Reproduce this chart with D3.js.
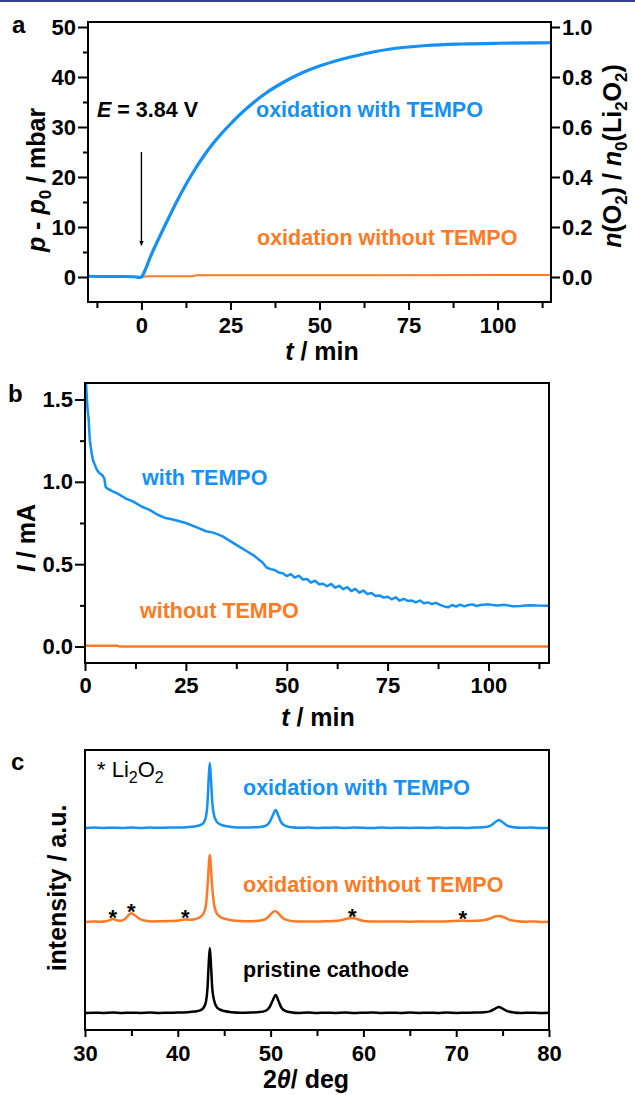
<!DOCTYPE html>
<html>
<head>
<meta charset="utf-8">
<style>
  body { margin: 0; background: #fff; }
  svg { display: block; font-family: Arial, "Liberation Sans", sans-serif; }
  .axis line { stroke: #000; stroke-width: 2; }
  .axis text { font-size: 22px; font-weight: bold; fill: #000; }
  .title { font-size: 25px; font-weight: bold; }
  .note { font-size: 21.5px; font-weight: bold; }
  .letter { font-size: 24px; font-weight: bold; }
  .frame { fill: none; stroke: #000; stroke-width: 2; }
</style>
</head>
<body>
<svg width="635" height="1095"></svg>
<script src="https://d3js.org/d3.v7.min.js"></script>
<script>
// ---- panel a: pressure rise ----
var pTime = [-15, -10, -5, -2, -0.5, 0, 1, 2.5, 5, 7.5, 10, 12.5, 15, 17.5, 20, 22.5, 25, 27.5, 30, 35, 40, 45, 50, 55, 60, 65, 70, 75, 80, 90, 100, 115];
var pWith = [0.15, 0.1, 0.1, 0.05, -0.1, 0, 1.3, 4.0, 7.9, 11.6, 15.2, 18.5, 21.5, 24.2, 26.6, 28.7, 30.6, 32.4, 34.0, 36.8, 39.0, 40.8, 42.2, 43.3, 44.2, 45.0, 45.6, 46.0, 46.3, 46.6, 46.75, 46.85];
var pTimeWithout = [0, 2, 14, 15.5, 60, 115];
var pWithout = [0, 0.15, 0.15, 0.35, 0.35, 0.4];

// ---- panel b: current ----
var iTime = [0, 0.3, 0.6, 0.9, 1.2, 1.6, 2, 2.5, 3, 3.7, 4.3, 4.8, 5.1, 5.5, 7, 8, 10, 12, 14, 16, 18, 20, 22, 25, 28, 30, 32, 34, 36, 38, 40, 42, 44, 45, 46, 47, 48, 49,
  50, 51, 52, 53, 54, 55, 56, 57, 58, 59, 60, 61, 62, 63, 64, 65, 66, 67, 68, 69, 70, 71, 72, 73, 74, 75, 76, 77, 78, 79,
  80, 81, 82, 83, 84, 85, 86, 87, 88, 89, 90, 91, 92, 93, 94, 95, 96, 97, 98, 100, 102, 104, 106, 108, 110, 112, 115];
var iWith = [1.75, 1.58, 1.45, 1.38, 1.25, 1.18, 1.13, 1.10, 1.07, 1.05, 1.04, 1.02, 0.97, 0.96, 0.94, 0.93, 0.90, 0.88, 0.85, 0.83, 0.80, 0.78, 0.77, 0.75, 0.72, 0.70, 0.69, 0.67, 0.64, 0.61, 0.58, 0.55, 0.51, 0.48, 0.47, 0.465, 0.45, 0.445,
  0.428, 0.44, 0.418, 0.43, 0.407, 0.41, 0.388, 0.40, 0.378, 0.381, 0.366, 0.38, 0.357, 0.369, 0.348, 0.36, 0.337, 0.35, 0.327, 0.34, 0.318, 0.325, 0.307, 0.31, 0.297, 0.302, 0.287, 0.299, 0.278, 0.29,
  0.277, 0.279, 0.268, 0.279, 0.263, 0.268, 0.258, 0.265, 0.253, 0.244, 0.238, 0.252, 0.243, 0.254, 0.244, 0.252, 0.256, 0.246, 0.252, 0.256, 0.249, 0.253, 0.244, 0.246, 0.251, 0.249, 0.248];
var iTimeWithout = [0, 8, 8.5, 115];
var iWithout = [0.005, 0.005, 0, 0];

// ---- panel c: XRD patterns [2theta, intensity above baseline] ----
var xrdWith = [[30,0],[31,0.4],[32,0],[33,0.3],[34,0.1],[35,0.5],[36,0],[37,0.4],[38,0.2],[39,0.5],[40,0.4],[41,0.8],[41.8,1.5],[42.4,2.8],[42.8,5.5],[43.05,12],[43.2,25],[43.33,50],[43.45,65],[43.57,50],[43.72,25],[43.9,13],[44.15,7],[44.5,4],[45,2.2],[45.8,1],[46.8,0.4],[47.8,0.6],[48.8,1],[49.5,2.4],[49.9,6],[50.25,13],[50.55,18],[50.85,12],[51.15,5.5],[51.6,2.2],[52.3,0.7],[53,0.2],[54,0.5],[55,0],[56,0.3],[57,0.5],[58,0],[59,0.4],[60,0.2],[61,0],[62,0.4],[63,0.1],[64,0.3],[65,0],[66,0.3],[67,0.1],[68,0.4],[69,0],[70,0.3],[71,0.1],[72,0.5],[73,0.8],[73.7,2.4],[74.2,5.8],[74.6,8],[75,5.8],[75.5,2.4],[76.2,0.7],[77,0.2],[78,0.4],[79,0],[80,0]];
var xrdWithout = [[30,0],[30.8,0.5],[31.6,0.3],[32.3,0.8],[32.7,2],[33.0,3],[33.35,2],[33.8,1.2],[34.3,3],[34.7,7],[35.0,8.7],[35.4,6.5],[35.9,3],[36.5,1.3],[37.3,0.6],[38.2,0.8],[39.1,1],[39.8,1.3],[40.4,2],[40.8,2.6],[41.3,2.2],[41.9,3],[42.4,5],[42.8,9],[43.05,18],[43.22,38],[43.45,67],[43.68,38],[43.88,19],[44.15,9.5],[44.5,5.5],[45.1,3.2],[45.8,1.8],[46.7,1],[47.6,0.8],[48.5,1],[49.3,2.2],[49.8,5.5],[50.2,9.5],[50.5,11],[50.85,8.5],[51.3,4],[51.9,1.6],[52.8,0.6],[54,0.4],[55.5,0.6],[56.8,0.9],[57.7,2],[58.3,3.5],[58.8,4],[59.3,3],[59.9,1.3],[60.8,0.6],[62,0.4],[63.5,0.6],[65,0.3],[66.5,0.6],[68,0.5],[69.3,0.8],[70.2,1.2],[70.7,1.5],[71.3,1.1],[72.2,1.2],[73.1,2],[73.8,4],[74.3,5.8],[74.7,6],[75.2,4.5],[75.8,2],[76.6,0.8],[77.5,0.3],[78.5,0.5],[79.3,0.1],[80,0.2]];
var xrdPristine = [[30,0],[31,0.3],[32,0.1],[33,0.4],[34,0],[35,0.3],[36,0.1],[37,0.4],[38,0],[39,0.3],[40,0.4],[41,0.7],[41.8,1.4],[42.4,2.6],[42.8,5.5],[43.05,12],[43.2,25],[43.33,49],[43.45,65],[43.57,49],[43.72,24],[43.9,13],[44.15,6.5],[44.5,3.6],[45,2],[45.8,0.8],[46.8,0.3],[47.8,0.5],[48.8,0.9],[49.5,2.4],[49.9,6],[50.25,13],[50.55,18],[50.85,12],[51.15,5.5],[51.6,2],[52.3,0.6],[53,0.1],[54,0.4],[55,0],[56,0.3],[57,0.1],[58,0.4],[59,0],[60,0.3],[61,0.5],[62,0.1],[63,0.3],[64,0],[65,0.4],[66,0.1],[67,0.3],[68,0],[69,0.4],[70,0.1],[71,0.3],[72,0.4],[73,0.7],[73.7,1.9],[74.2,4.4],[74.6,6],[75,4.4],[75.5,1.9],[76.2,0.6],[77,0.1],[78,0.3],[79,0],[80,0.2]];
var xrdOffsets = [202, 108, 17];   // with, without, pristine
var li2o2Peaks = [33.0, 35.0, 40.8, 58.8, 70.7];

// tick values
var aTimeTicks = [0, 25, 50, 75, 100], aTimeMinor = [-12.5, 12.5, 37.5, 62.5, 87.5, 112.5];
var aPTicks = [0, 10, 20, 30, 40, 50], aPMinor = [5, 15, 25, 35, 45];
var aNTicks = [0, 0.2, 0.4, 0.6, 0.8, 1.0];
var bTimeTicks = [0, 25, 50, 75, 100], bTimeMinor = [12.5, 37.5, 62.5, 87.5, 112.5];
var bITicks = [0, 0.5, 1.0, 1.5], bIMinor = [0.25, 0.75, 1.25];
var cTicks = [30, 40, 50, 60, 70, 80], cMinor = [35, 45, 55, 65, 75];

var blue = '#1590f4', orange = '#ff7a24';
var svg = d3.select('svg');

// thin navy rule at the very top
svg.append('rect').attr('x', 0).attr('y', 0).attr('width', 635).attr('height', 2).attr('fill', '#34408a');

function axis(g, ax, values, size, pad, fmt) {
  g.attr('class', 'axis')
    .call(ax.tickValues(values).tickSize(size).tickSizeOuter(0).tickPadding(pad)
      .tickFormat(fmt ? fmt : function() { return ''; }));
  g.select('.domain').remove();
}

// add text with italic / subscript parts
function rich(t, parts, subSize) {
  parts.forEach(function(p) {
    var s = t.append('tspan').text(p[0]);
    if (p[1] && p[1].indexOf('i') >= 0) s.attr('font-style', 'italic');
    if (p[1] && p[1].indexOf('s') >= 0) s.attr('font-size', subSize).attr('dy', subSize * 0.35);
    if (p[2]) s.attr('dy', p[2]);
  });
}

svg.append('defs').append('marker')
  .attr('id', 'arrow').attr('viewBox', '0 0 10 10').attr('refX', 10).attr('refY', 5)
  .attr('markerWidth', 5).attr('markerHeight', 9).attr('markerUnits', 'userSpaceOnUse')
  .attr('orient', 'auto')
  .append('path').attr('d', 'M0,0 L10,5 L0,10 Z').attr('fill', '#000');

// ================= panel a =================
var xa = d3.scaleLinear().domain([-15, 115]).range([88, 551]);
var ya = d3.scaleLinear().domain([-5, 51]).range([302, 22]);
var yaR = d3.scaleLinear().domain([-0.1, 1.02]).range([302, 22]);

svg.append('clipPath').attr('id', 'clipA').append('rect')
  .attr('x', 88).attr('y', 22).attr('width', 463).attr('height', 280);

var lineA = d3.line().x(function(d) { return xa(d[0]); }).y(function(d) { return ya(d[1]); }).curve(d3.curveMonotoneX);
svg.append('path').attr('clip-path', 'url(#clipA)')
  .attr('d', lineA(d3.zip(pTimeWithout, pWithout)))
  .attr('fill', 'none').attr('stroke', orange).attr('stroke-width', 2);
svg.append('path').attr('clip-path', 'url(#clipA)')
  .attr('d', lineA(d3.zip(pTime, pWith)))
  .attr('fill', 'none').attr('stroke', blue).attr('stroke-width', 3.2);

axis(svg.append('g').attr('transform', 'translate(0,302)'), d3.axisBottom(xa), aTimeTicks, 8, 7, d3.format('d'));
axis(svg.append('g').attr('transform', 'translate(0,302)'), d3.axisBottom(xa), aTimeMinor, 6, 0);
axis(svg.append('g').attr('transform', 'translate(88,0)'), d3.axisLeft(ya), aPTicks, 10, 2, d3.format('d'));
axis(svg.append('g').attr('transform', 'translate(88,0)'), d3.axisLeft(ya), aPMinor, 5, 0);
axis(svg.append('g').attr('transform', 'translate(551,0)'), d3.axisRight(yaR), aNTicks, 9, 2, d3.format('.1f'));
svg.append('rect').attr('class', 'frame').attr('x', 88).attr('y', 22).attr('width', 463).attr('height', 280);

svg.append('line').attr('x1', xa(0)).attr('x2', xa(0)).attr('y1', ya(25)).attr('y2', ya(6.3))
  .attr('stroke', '#000').attr('stroke-width', 1.4).attr('marker-end', 'url(#arrow)');
rich(svg.append('text').attr('class', 'note').attr('x', 97).attr('y', 117), [['E', 'i'], [' = 3.84 V']]);
svg.append('text').attr('class', 'note').attr('x', 256).attr('y', 117).attr('fill', blue).text('oxidation with TEMPO');
svg.append('text').attr('class', 'note').attr('x', 257).attr('y', 245).attr('fill', orange).text('oxidation without TEMPO');

svg.append('text').attr('class', 'letter').attr('x', 12).attr('y', 33).text('a');
rich(svg.append('text').attr('class', 'title').attr('text-anchor', 'middle').attr('transform', 'translate(45,180) rotate(-90)'),
  [['p', 'i'], [' - '], ['p', 'i'], ['0', 's'], [' / mbar', '', -17 * 0.35]], 17);
rich(svg.append('text').attr('class', 'title').attr('text-anchor', 'middle').attr('transform', 'translate(621,156) rotate(-90)'),
  [['n', 'i'], ['(O'], ['2', 's'], [') / ', '', -6], ['n', 'i'], ['0', 's'], ['(Li', '', -6], ['2', 's'], ['O', '', -6], ['2', 's'], [')', '', -6]], 17);
rich(svg.append('text').attr('class', 'title').attr('text-anchor', 'middle').attr('x', 322).attr('y', 360),
  [['t', 'i'], [' / min']]);

// ================= panel b =================
var xb = d3.scaleLinear().domain([0, 115]).range([85, 549]);
var yb = d3.scaleLinear().domain([-0.1, 1.6]).range([663, 383]);

svg.append('clipPath').attr('id', 'clipB').append('rect')
  .attr('x', 85).attr('y', 383).attr('width', 464).attr('height', 280);

var lineB = d3.line().x(function(d) { return xb(d[0]); }).y(function(d) { return yb(d[1]); });
svg.append('path').attr('clip-path', 'url(#clipB)')
  .attr('d', lineB(d3.zip(iTimeWithout, iWithout)))
  .attr('fill', 'none').attr('stroke', orange).attr('stroke-width', 2.5);
svg.append('path').attr('clip-path', 'url(#clipB)')
  .attr('d', lineB(d3.zip(iTime, iWith)))
  .attr('fill', 'none').attr('stroke', blue).attr('stroke-width', 2.5).attr('stroke-linejoin', 'round');

axis(svg.append('g').attr('transform', 'translate(0,663)'), d3.axisBottom(xb), bTimeTicks, 8, 6, d3.format('d'));
axis(svg.append('g').attr('transform', 'translate(0,663)'), d3.axisBottom(xb), bTimeMinor, 6, 0);
axis(svg.append('g').attr('transform', 'translate(85,0)'), d3.axisLeft(yb), bITicks, 10, 2, d3.format('.1f'));
axis(svg.append('g').attr('transform', 'translate(85,0)'), d3.axisLeft(yb), bIMinor, 5, 0);
svg.append('rect').attr('class', 'frame').attr('x', 85).attr('y', 383).attr('width', 464).attr('height', 280);

svg.append('text').attr('class', 'note').attr('x', 142).attr('y', 485).attr('fill', blue).text('with TEMPO');
svg.append('text').attr('class', 'note').attr('x', 140).attr('y', 618).attr('fill', orange).text('without TEMPO');

svg.append('text').attr('class', 'letter').attr('x', 8).attr('y', 402).text('b');
rich(svg.append('text').attr('class', 'title').attr('text-anchor', 'middle').attr('transform', 'translate(35,538) rotate(-90)'),
  [['I', 'i'], [' / mA']]);
rich(svg.append('text').attr('class', 'title').attr('text-anchor', 'middle').attr('x', 318).attr('y', 726),
  [['t', 'i'], [' / min']]);

// ================= panel c =================
var xc = d3.scaleLinear().domain([30, 80]).range([85, 549]);
var yc = d3.scaleLinear().domain([0, 280]).range([1030, 750]);
var patterns = [xrdWith, xrdWithout, xrdPristine];
var patColors = [blue, orange, '#000'];

svg.append('clipPath').attr('id', 'clipC').append('rect')
  .attr('x', 85).attr('y', 750).attr('width', 464).attr('height', 280);

patterns.forEach(function(pat, k) {
  var line = d3.line()
    .x(function(d) { return xc(d[0]); })
    .y(function(d) { return yc(d[1] + xrdOffsets[k]); })
    .curve(d3.curveMonotoneX);
  svg.append('path').attr('clip-path', 'url(#clipC)')
    .attr('d', line(pat)).attr('fill', 'none')
    .attr('stroke', patColors[k]).attr('stroke-width', 2.5).attr('stroke-linejoin', 'round');
});

// Li2O2 reflections marked on the "without TEMPO" pattern
function valueAt(pat, x) {
  var i = d3.bisector(function(d) { return d[0]; }).left(pat, x);
  if (i <= 0) return pat[0][1];
  var a = pat[i - 1], b = pat[i];
  return a[1] + (b[1] - a[1]) * (x - a[0]) / (b[0] - a[0]);
}
svg.selectAll('.star').data(li2o2Peaks).enter().append('text')
  .attr('class', 'star').attr('text-anchor', 'middle')
  .attr('font-size', 22).attr('font-weight', 'bold')
  .attr('x', function(d) { return xc(d); })
  .attr('y', function(d) { return yc(valueAt(xrdWithout, d) + xrdOffsets[1] + 7) + 12.5; })
  .text('*');

axis(svg.append('g').attr('transform', 'translate(0,1030)'), d3.axisBottom(xc), cTicks, 7, 8, d3.format('d'));
axis(svg.append('g').attr('transform', 'translate(0,1030)'), d3.axisBottom(xc), cMinor, 6, 0);
svg.append('rect').attr('class', 'frame').attr('x', 85).attr('y', 750).attr('width', 464).attr('height', 280);

rich(svg.append('text').attr('x', 97).attr('y', 777).attr('font-size', 22),
  [['*', '', 0], [' Li'], ['2', 's'], ['O', '', -5.6], ['2', 's']], 16);
svg.append('text').attr('class', 'note').attr('x', 243).attr('y', 795).attr('fill', blue).text('oxidation with TEMPO');
svg.append('text').attr('class', 'note').attr('x', 243).attr('y', 892).attr('fill', orange).text('oxidation without TEMPO');
svg.append('text').attr('class', 'note').attr('x', 243).attr('y', 977).attr('fill', '#000').text('pristine cathode');

svg.append('text').attr('class', 'letter').attr('x', 11).attr('y', 770).text('c');
svg.append('text').attr('class', 'title').attr('text-anchor', 'middle')
  .attr('transform', 'translate(66,888) rotate(-90)').text('intensity / a.u.');
rich(svg.append('text').attr('class', 'title').attr('text-anchor', 'middle').attr('x', 306).attr('y', 1088),
  [['2'], ['\u03b8', 'i'], ['/ deg']]);
</script>
</body>
</html>
